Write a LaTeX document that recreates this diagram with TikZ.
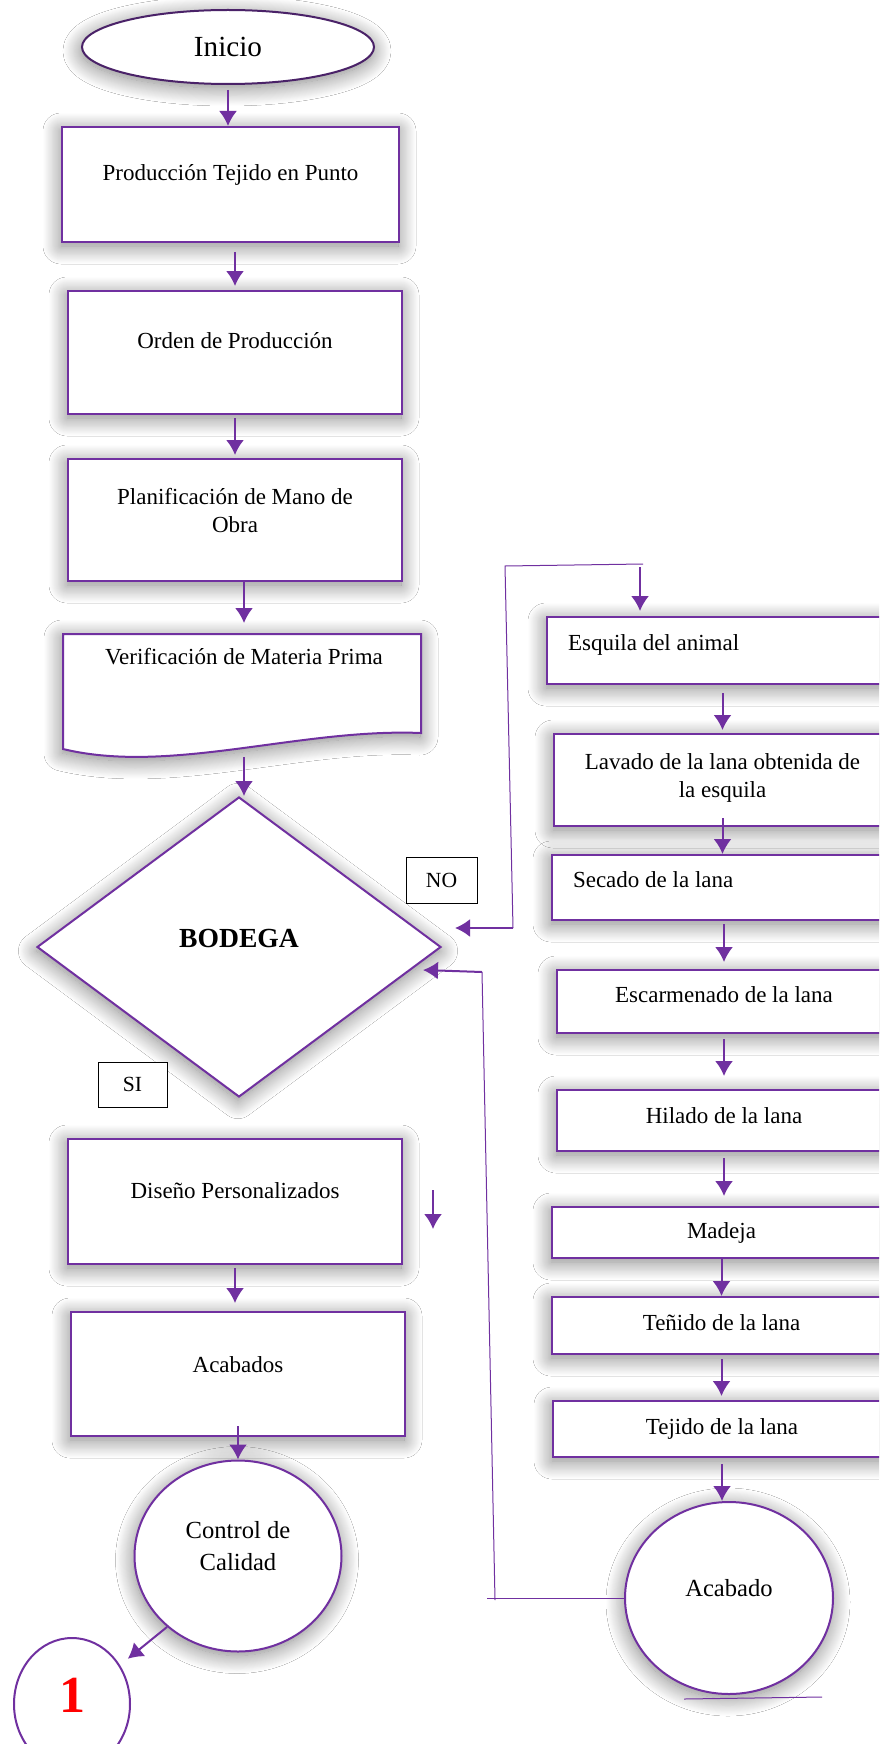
\documentclass[tikz,border=0pt]{standalone}
\usepackage{fontspec}
\setmainfont{Liberation Serif}
\usetikzlibrary{arrows.meta,shapes.geometric,shadows.blur}
\tikzset{>={Latex[width=9pt,length=7.5pt]}}
\definecolor{flowpurple}{HTML}{7030A0}
\definecolor{darkpurple}{HTML}{4A2268}
\tikzset{
  glow/.style={blur shadow={shadow xshift=-0.5pt, shadow yshift=-2pt,
      shadow blur radius=9pt, shadow blur steps=20, shadow opacity=50}},
  procbox/.style={draw=flowpurple, line width=1pt, fill=white, glow,
    align=center, inner sep=0pt, font=\fontsize{11.5}{14}\selectfont},
  lifted/.style={text depth=#1},
  sidebox/.style={procbox, anchor=west},
  leftbox/.style={sidebox, inner xsep=10.5pt, align=flush left},
  roundbox/.style={ellipse, draw=flowpurple, line width=1pt, fill=white,
    glow, inner sep=0pt, align=center, font=\fontsize{12.3}{16}\selectfont},
  tagbox/.style={draw=black, line width=0.5pt, fill=white, inner sep=0pt,
    font=\fontsize{10.8}{13}\selectfont},
  flow/.style={->, draw=flowpurple, line width=1pt},
  loopline/.style={draw=flowpurple, line width=0.5pt},
}

\begin{document}
\begin{tikzpicture}[x=0.5pt, y=-0.5pt]

  \fill[white] (0,0) rectangle (879,1744);
  \useasboundingbox (0,0) rectangle (879,1744);
  \clip (0,0) rectangle (879,1744);

  % main column
  \node[ellipse, draw=darkpurple, line width=1pt, fill=white, glow,
    minimum width=146pt, minimum height=37pt, inner sep=0pt,
    font=\fontsize{14.6}{17}\selectfont] (inicio) at (228,47) {Inicio};

  \node[procbox, lifted=12pt, minimum width=168.5pt, minimum height=57.5pt]
  (prod) at (230.5,184.5) {Producción Tejido en Punto};
  \node[procbox, lifted=12pt, minimum width=167pt, minimum height=61.5pt]
  (orden) at (235,352.5) {Orden de Producción};
  \node[procbox, lifted=9.5pt, minimum width=167pt, minimum height=61pt]
  (planif) at (235,520) {Planificación de Mano de\\Obra};

  \draw[draw=flowpurple, line width=1pt, fill=white, glow]
  (63,634) -- (421,634) -- (421,733)
  .. controls (300,728) and (170,775) .. (63,749) -- cycle;
  \node[font=\fontsize{11.5}{14}\selectfont, anchor=north, inner ysep=7pt]
  (verif) at (244,634) {Verificación de Materia Prima};
  \coordinate (verif-wave) at (244,757);

  \node[diamond, draw=flowpurple, line width=1pt, fill=white, glow,
    minimum width=202pt, minimum height=150pt, inner sep=0pt, lifted=9pt,
    font=\bfseries\fontsize{13.8}{16}\selectfont] (bodega) at (239,947) {BODEGA};

  \node[tagbox, minimum width=35.5pt, minimum height=23pt] (no) at (441.5,880) {NO};
  \node[tagbox, minimum width=34.5pt, minimum height=22.5pt] (si) at (132.5,1084.5) {SI};

  \node[procbox, lifted=11pt, minimum width=167pt, minimum height=62.5pt]
  (diseno) at (235,1201.5) {Diseño Personalizados};
  \node[procbox, lifted=9pt, minimum width=167pt, minimum height=62pt]
  (acabados) at (238,1374) {Acabados};
  \node[roundbox, lifted=10pt, minimum width=103.5pt, minimum height=95.5pt]
  (control) at (238,1556) {Control de\\Calidad};
  \node[ellipse, draw=flowpurple, line width=1pt, fill=white, inner sep=0pt,
    minimum width=58pt, minimum height=66pt, text=red, lifted=9pt,
    font=\bfseries\fontsize{26}{28}\selectfont] (uno) at (72,1704) {1};

  % wool column
  \node[leftbox, lifted=8pt, minimum width=172pt, text width=151pt, minimum height=33.5pt]
  (esquila) at (546,650.5) {Esquila del animal};
  \node[sidebox, lifted=4pt, minimum width=168.5pt, minimum height=46pt]
  (lavado) at (553,780) {Lavado de la lana obtenida de\\la esquila};
  \node[leftbox, lifted=8pt, minimum width=169.5pt, text width=148.5pt, minimum height=32.5pt]
  (secado) at (551,887.5) {Secado de la lana};
  \node[sidebox, lifted=7pt, minimum width=167pt, minimum height=31.5pt]
  (escarm) at (556,1001.5) {Escarmenado de la lana};
  \node[sidebox, lifted=5pt, minimum width=167pt, minimum height=30.5pt]
  (hilado) at (556,1120.5) {Hilado de la lana};
  \node[sidebox, minimum width=169.5pt, minimum height=25.5pt]
  (madeja) at (551,1232.5) {Madeja};
  \node[sidebox, lifted=3pt, minimum width=169.5pt, minimum height=28.5pt]
  (tenido) at (551,1325.5) {Teñido de la lana};
  \node[sidebox, minimum width=169pt, minimum height=28pt]
  (tejido) at (552,1429) {Tejido de la lana};
  \node[roundbox, lifted=10pt, minimum width=104pt, minimum height=96pt]
  (acabado) at (729,1598) {Acabado};

  % arrows
  \draw[flow, shorten <=2.5pt] (inicio.south) -- (inicio.south |- prod.north);
  \draw[flow, shorten <=4.5pt, shorten >=2pt] (orden.north |- prod.south) -- (orden.north);
  \draw[flow, shorten <=1.5pt, shorten >=1.5pt] (planif.north |- orden.south) -- (planif.north);
  \draw[flow, shorten >=5.5pt] (verif.north |- planif.south) -- (verif.north);
  \draw[flow] (verif-wave) -- (verif-wave |- bodega.north);

  \draw[flow, shorten <=4pt, shorten >=1.5pt] (esquila.south -| lavado.north) -- (lavado.north);
  \draw[flow, shorten <=-4.5pt] (lavado.south) -- (lavado.south |- secado.north);
  \draw[flow, shorten <=1.5pt, shorten >=3.5pt] (escarm.north |- secado.south) -- (escarm.north);
  \draw[flow, shorten <=2.5pt, shorten >=6.5pt] (escarm.south) -- (escarm.south |- hilado.north);
  \draw[flow, shorten <=3pt, shorten >=5pt] (hilado.south) -- (hilado.south |- madeja.north);
  \draw[flow] (madeja.south) -- (madeja.south |- tenido.north);
  \draw[flow, shorten <=2pt, shorten >=2pt] (tenido.south) -- (tenido.south |- tejido.north);
  \draw[flow, shorten <=3pt] (tejido.south) -- (tejido.south |- acabado.north);

  \draw[flow, shorten <=1.5pt, shorten >=4pt] (diseno.south) -- (diseno.south |- acabados.north);
  \draw[flow, shorten <=-5.5pt] (acabados.south) -- (acabados.south |- control.north);
  \draw[flow, shorten >=5pt] (control.225) -- (uno);

  \coordinate (lone-a) at (433,1190);
  \coordinate (lone-b) at (433,1229);
  \draw[flow] (lone-a) -- (lone-b);

  % NO loop
  \coordinate (no-a) at (455,928);
  \coordinate (no-b) at (513,928);
  \coordinate (no-c) at (505,566);
  \coordinate (no-d) at (643,564);
  \coordinate (no-e) at (640,567);
  \draw[loopline] (no-b) -- (no-c) -- (no-d);
  \draw[flow] (no-b) -- (no-a);
  \draw[flow, shorten >=2.5pt] (no-e) -- (no-e |- esquila.north);

  % return loop
  \coordinate (ret-b) at (487,1598);
  \coordinate (ret-c) at (495,1600);
  \coordinate (ret-d) at (482,972);
  \coordinate (ret-e) at (423,970);
  \draw[loopline] (acabado.west) -- (ret-b);
  \draw[loopline] (ret-c) -- (ret-d);
  \draw[flow] (ret-d) -- (ret-e);

  \coordinate (base-l) at (684,1699);
  \coordinate (base-r) at (822,1697);
  \draw[loopline] (base-l) -- (base-r);

\end{tikzpicture}
\end{document}
